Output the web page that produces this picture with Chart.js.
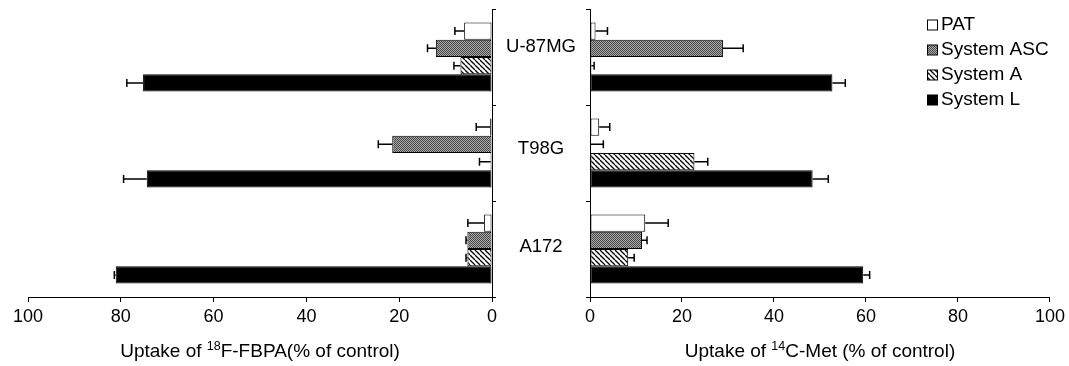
<!DOCTYPE html>
<html>
<head>
<meta charset="utf-8">
<script src="https://cdn.jsdelivr.net/npm/chart.js@4/dist/chart.umd.min.js"></script>
<style>
  body { margin: 0; background: #fff; }
  #wrap { position: relative; width: 1069px; height: 366px; overflow: hidden; }
  #leftBox { position: absolute; left: 0; top: 0; }
  #rightBox { position: absolute; left: 540px; top: 0; }
</style>
</head>
<body>
<div id="wrap">
  <div id="leftBox"><canvas id="fbpaChart" width="600" height="366"></canvas></div>
  <div id="rightBox"><canvas id="metChart" width="529" height="366"></canvas></div>
</div>
<script>
// cell lines (top to bottom)
const cellLines = ['U-87MG', 'T98G', 'A172'];
const seriesNames = ['PAT', 'System ASC', 'System A', 'System L'];
const tickValues = [0, 20, 40, 60, 80, 100];

// uptake of 18F-FBPA (% of control), left panel
const fbpaPAT = [6.0, 0.4, 1.7];
const fbpaASC = [12.1, 21.5, 5.3];
const fbpaA = [6.8, 0.3, 5.3];
const fbpaL = [75.2, 74.4, 81.1];
const fbpaPATErr = [2.0, 3.0, 3.5];
const fbpaASCErr = [1.8, 3.0, 0.3];
const fbpaAErr = [1.4, 2.4, 0.3];
const fbpaLErr = [3.5, 5.0, 0.3];

// uptake of 14C-Met (% of control), right panel
const metPAT = [1.2, 2.0, 12.0];
const metASC = [28.9, 0.2, 11.3];
const metA = [0.3, 22.7, 8.3];
const metL = [52.7, 48.4, 59.4];
const metPATErr = [2.6, 2.3, 5.0];
const metASCErr = [4.4, 2.7, 1.1];
const metAErr = [0.6, 2.9, 1.3];
const metLErr = [2.8, 3.4, 1.4];

const FONT = "'Liberation Sans', Arial, sans-serif";

function dotPattern() {
    const c = document.createElement('canvas');
    c.width = 2; c.height = 2;
    const g = c.getContext('2d');
    g.fillStyle = '#a9a9a9';
    g.fillRect(0, 0, 2, 2);
    g.fillStyle = '#4a4a4a';
    g.fillRect(0, 0, 1, 1);
    g.fillRect(1, 1, 1, 1);
    return g.createPattern(c, 'repeat');
}

function hatchPattern() {
    const s = 5;
    const c = document.createElement('canvas');
    c.width = s; c.height = s;
    const g = c.getContext('2d');
    g.fillStyle = '#fff';
    g.fillRect(0, 0, s, s);
    g.strokeStyle = '#000';
    g.lineWidth = 1.3;
    for (const k of [-s, 0, s]) {
        g.beginPath();
        g.moveTo(k, 0);
        g.lineTo(k + s, s);
        g.stroke();
    }
    return g.createPattern(c, 'repeat');
}

const fills = ['#ffffff', dotPattern(), hatchPattern(), '#000000'];

function makeDatasets(values) {
    return values.map((vals, i) => ({
        label: seriesNames[i],
        data: vals,
        backgroundColor: fills[i],
        borderColor: '#000',
        borderWidth: 1,
        borderSkipped: false,
        barPercentage: 1,
        categoryPercentage: 0.72
    }));
}

// error bars drawn from the bar end outward
const errorBars = {
    id: 'errorBars',
    afterDatasetsDraw(chart, args, opts) {
        const ctx = chart.ctx;
        const xs = chart.scales.x;
        ctx.save();
        ctx.strokeStyle = '#000';
        ctx.lineWidth = 1.5;
        opts.errors.forEach((errs, di) => {
            const meta = chart.getDatasetMeta(di);
            meta.data.forEach((bar, i) => {
                const v = chart.data.datasets[di].data[i];
                const x0 = xs.getPixelForValue(v);
                const x1 = xs.getPixelForValue(v + errs[i]);
                ctx.beginPath();
                ctx.moveTo(x0, bar.y);
                ctx.lineTo(x1, bar.y);
                ctx.moveTo(x1, bar.y - 4);
                ctx.lineTo(x1, bar.y + 4);
                ctx.stroke();
            });
        });
        ctx.restore();
    }
};

// x axis title with superscript isotope number
const axisTitle = {
    id: 'axisTitle',
    afterDraw(chart, args, opts) {
        const ctx = chart.ctx;
        const area = chart.chartArea;
        const big = '19px ' + FONT;
        const small = '12.5px ' + FONT;
        ctx.save();
        ctx.fillStyle = '#000';
        ctx.textBaseline = 'middle';
        ctx.font = big;
        const w1 = ctx.measureText(opts.before).width;
        const w3 = ctx.measureText(opts.after).width;
        ctx.font = small;
        const w2 = ctx.measureText(opts.sup).width;
        let x = (area.left + area.right) / 2 - (w1 + w2 + w3) / 2;
        const y = 352;
        ctx.font = big;
        ctx.fillText(opts.before, x, y);
        x += w1;
        ctx.font = small;
        ctx.fillText(opts.sup, x, y - 5);
        x += w2;
        ctx.font = big;
        ctx.fillText(opts.after, x, y);
        ctx.restore();
    }
};

// cell line names between the two panels
const cellLabels = {
    id: 'cellLabels',
    afterDraw(chart) {
        const ctx = chart.ctx;
        const ys = chart.scales.y;
        const nudge = [-10, -4, -2];
        ctx.save();
        ctx.fillStyle = '#000';
        ctx.font = '18.5px ' + FONT;
        ctx.textAlign = 'center';
        ctx.textBaseline = 'middle';
        cellLines.forEach((name, i) => {
            ctx.fillText(name, 541, ys.getPixelForValue(i) + nudge[i]);
        });
        ctx.restore();
    }
};

const legendBox = {
    id: 'legendBox',
    afterDraw(chart) {
        const ctx = chart.ctx;
        ctx.save();
        ctx.font = '19px ' + FONT;
        ctx.textBaseline = 'middle';
        ctx.fillStyle = '#000';
        seriesNames.forEach((name, i) => {
            const y = 25 + i * 25;
            ctx.fillStyle = fills[i];
            ctx.fillRect(387.5, y - 5, 10, 10);
            ctx.strokeStyle = '#000';
            ctx.lineWidth = 1;
            ctx.strokeRect(387.5, y - 5, 10, 10);
            ctx.fillStyle = '#000';
            ctx.fillText(name, 401, y);
        });
        ctx.restore();
    }
};

function makeOptions(reverse, yPos, padding, title) {
    return {
        indexAxis: 'y',
        responsive: false,
        animation: false,
        layout: { padding: padding },
        plugins: {
            legend: { display: false },
            tooltip: { enabled: false },
            errorBars: { errors: title.errors },
            axisTitle: title
        },
        scales: {
            x: {
                type: 'linear',
                min: 0,
                max: 100,
                reverse: reverse,
                position: 'bottom',
                afterBuildTicks: (scale) => { scale.ticks = tickValues.map(v => ({ value: v })); },
                afterFit: (scale) => { scale.height = 69; },
                ticks: { color: '#000', font: { size: 18, family: FONT }, padding: 4, maxRotation: 0 },
                grid: { drawOnChartArea: false, drawTicks: true, tickLength: 5, color: '#000', lineWidth: 1 },
                border: { display: true, color: '#000', width: 1 }
            },
            y: {
                type: 'category',
                labels: cellLines,
                position: yPos,
                offset: true,
                afterFit: (scale) => { scale.width = 5; },
                ticks: { display: false },
                grid: { offset: true, drawOnChartArea: false, drawTicks: true, tickLength: 4, color: '#000', lineWidth: 1 },
                border: { display: true, color: '#000', width: 1 }
            }
        }
    };
}

new Chart(document.getElementById('fbpaChart'), {
    type: 'bar',
    data: {
        labels: cellLines,
        datasets: makeDatasets([fbpaPAT, fbpaASC, fbpaA, fbpaL])
    },
    options: makeOptions(true, 'right', { left: 28, right: 103, top: 9, bottom: 0 }, {
        before: 'Uptake of ', sup: '18', after: 'F-FBPA(% of control)',
        errors: [fbpaPATErr, fbpaASCErr, fbpaAErr, fbpaLErr]
    }),
    plugins: [errorBars, axisTitle, cellLabels]
});

new Chart(document.getElementById('metChart'), {
    type: 'bar',
    data: {
        labels: cellLines,
        datasets: makeDatasets([metPAT, metASC, metA, metL])
    },
    options: makeOptions(false, 'left', { left: 45, right: 16, top: 9, bottom: 0 }, {
        before: 'Uptake of ', sup: '14', after: 'C-Met (% of control)',
        errors: [metPATErr, metASCErr, metAErr, metLErr]
    }),
    plugins: [errorBars, axisTitle, legendBox]
});
</script>
</body>
</html>
